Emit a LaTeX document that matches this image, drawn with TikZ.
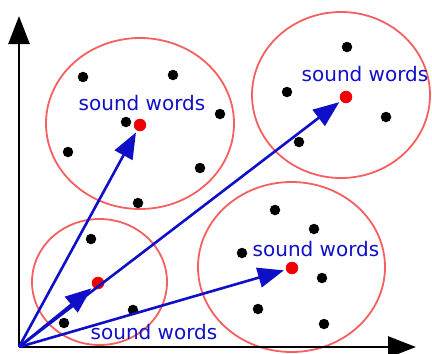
\documentclass[tikz,border=0pt]{standalone}
\usepackage{fontspec}
\setmainfont{DejaVu Sans}
\usetikzlibrary{arrows.meta}
\definecolor{cblue}{RGB}{15,15,200}
\definecolor{cred}{RGB}{245,95,95}
\definecolor{dotred}{RGB}{240,0,0}
\tikzset{
  clus/.style={draw=cred, line width=1.8pt},
  pt/.style={circle, fill=black, inner sep=0pt, minimum size=10.5pt},
  cen/.style={circle, fill=dotred, inner sep=0pt, minimum size=12.5pt},
  lab/.style={text=cblue, font=\fontsize{20}{20}\selectfont, inner sep=0pt},
  vec/.style={draw=cblue, line width=2.6pt, -{Triangle[length=26pt,width=20pt]}, shorten >=2pt},
  axis/.style={draw=black, line width=2.6pt, -{Triangle[length=28pt,width=21pt]}}
}
\begin{document}
\begin{tikzpicture}[x=1pt,y=-1pt]
\useasboundingbox (0,0) rectangle (432,354);
% clusters
\draw[clus] (140,123.5) ellipse [x radius=94, y radius=85.5];
\draw[clus] (341,95) ellipse [x radius=89, y radius=83];
\draw[clus] (99.5,282) ellipse [x radius=67.5, y radius=63];
\draw[clus] (291.5,267) ellipse [x radius=93.5, y radius=85];
% axes
\coordinate (o) at (19,347);
\coordinate (ytip) at (19,16);
\coordinate (xtip) at (416,347);
\draw[axis] (o) -- (ytip);
\draw[axis] (o) -- (xtip);
% black points
\node[pt] (a1) at (83,77) {};
\node[pt] (a2) at (173,75) {};
\node[pt] (a3) at (126,122) {};
\node[pt] (a4) at (68,152) {};
\node[pt] (a5) at (200,168) {};
\node[pt] (a6) at (220,114) {};
\node[pt] (a7) at (138,203) {};
\node[pt] (b1) at (347,47) {};
\node[pt] (b2) at (287,92) {};
\node[pt] (b3) at (386,117) {};
\node[pt] (b4) at (299,142) {};
\node[pt] (c1) at (91,239) {};
\node[pt] (c2) at (133,310) {};
\node[pt] (c3) at (64,323) {};
\node[pt] (d1) at (275,210) {};
\node[pt] (d2) at (314,229) {};
\node[pt] (d3) at (242,253) {};
\node[pt] (d4) at (322,278) {};
\node[pt] (d5) at (258,309) {};
\node[pt] (d6) at (324,324) {};
% centroids
\node[cen] (m1) at (140,125) {};
\node[cen] (m2) at (346,97) {};
\node[cen] (m3) at (98,283) {};
\node[cen] (m4) at (292,268) {};
% vectors
\draw[vec] (o) -- (m1);
\draw[vec] (o) -- (m2);
\draw[vec] (o) -- (m3);
\draw[vec] (o) -- (m4);
% labels
\node[lab] (l1) at (142,103) {sound words};
\node[lab] (l2) at (365,74) {sound words};
\node[lab] (l3) at (154,332) {sound words};
\node[lab] (l4) at (316,249) {sound words};
\end{tikzpicture}
\end{document}
